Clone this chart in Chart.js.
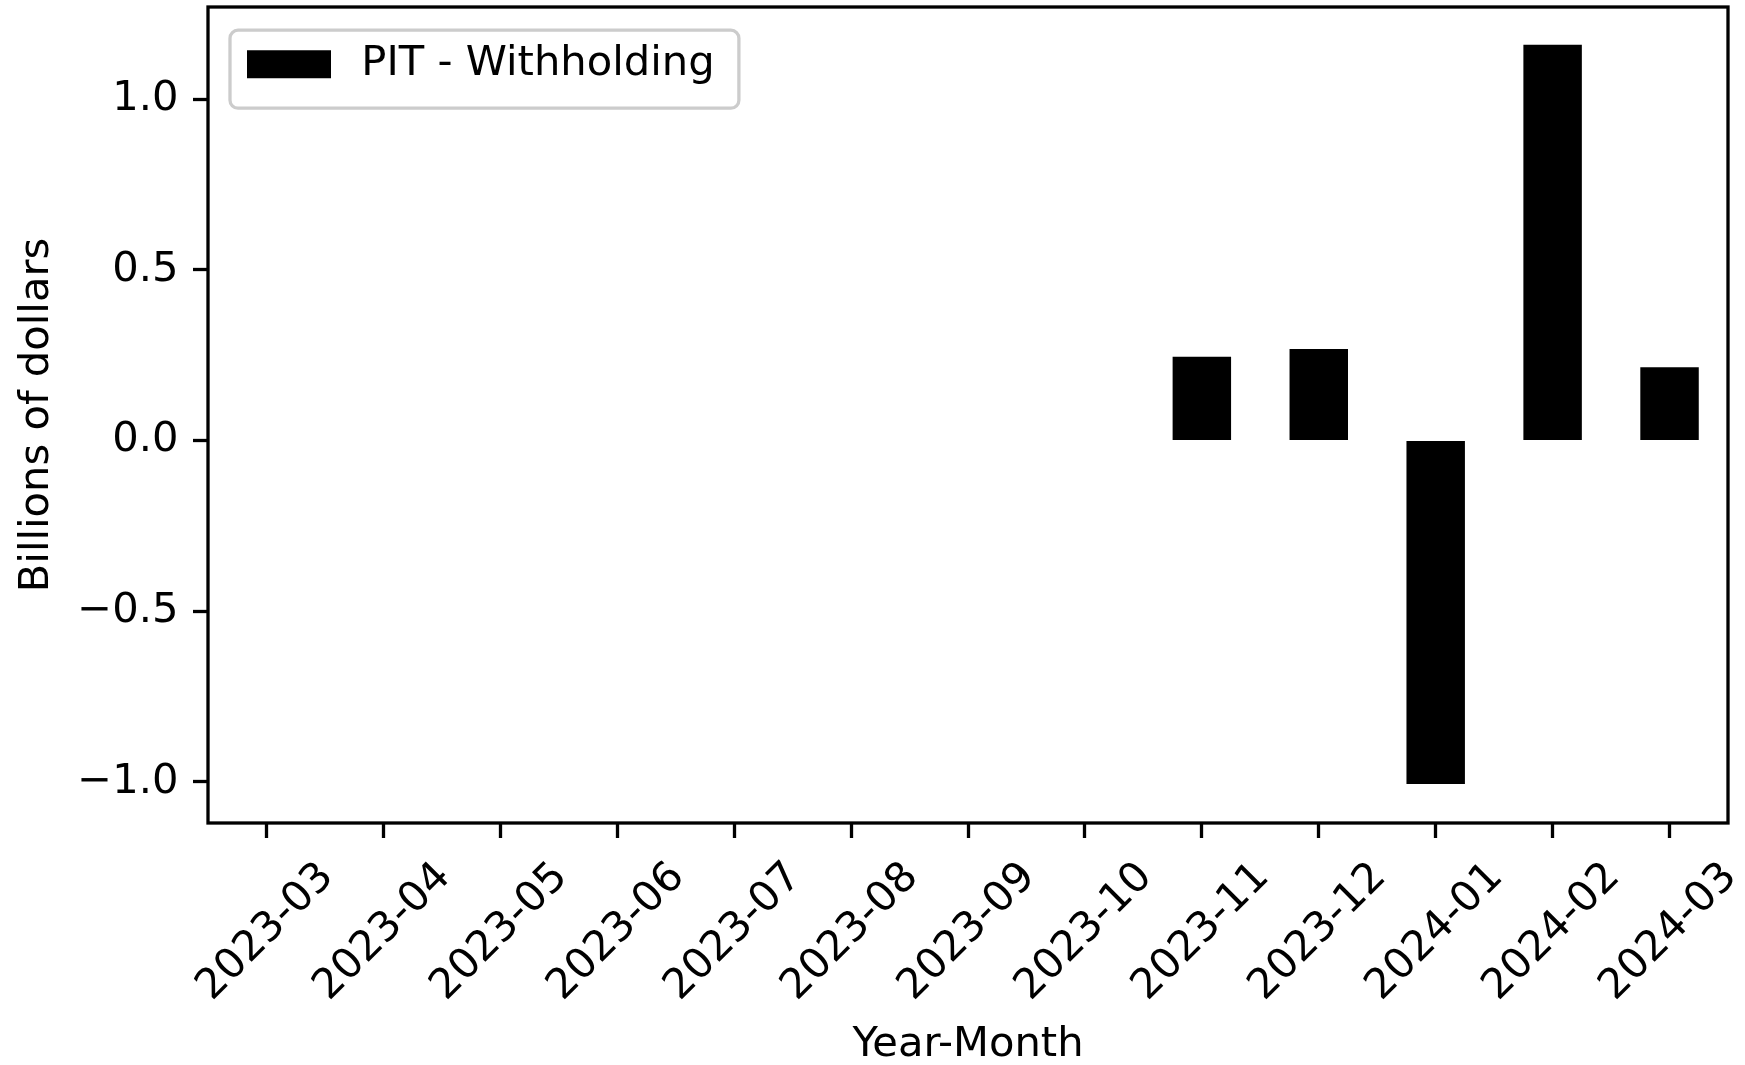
<!DOCTYPE html>
<html lang="en">
<head>
<meta charset="UTF-8">
<title>PIT - Withholding</title>
<script src="https://cdn.jsdelivr.net/npm/chart.js"></script>
<style>
  html, body { margin: 0; padding: 0; background: #fff; }
  #box { width: 1745px; height: 1065px; }
</style>
</head>
<body>
<div id="box"><canvas id="chart" width="1745" height="1065"></canvas></div>
<script>
// data (billions of dollars)
const months = ['2023-03', '2023-04', '2023-05', '2023-06', '2023-07', '2023-08', '2023-09',
                '2023-10', '2023-11', '2023-12', '2024-01', '2024-02', '2024-03'];
const withholding = [null, null, null, null, null, null, null, null, 0.245, 0.268, -1.007, 1.159, 0.214];
const seriesName = 'PIT - Withholding';
const yTicks = [-1.0, -0.5, 0.0, 0.5, 1.0];
const yMin = -1.121;
const yMax = 1.2697;

const FS = 41.67;   // 10pt at 300 dpi
const LW = 3.3;

Chart.defaults.font.family = '"DejaVu Sans", sans-serif';
Chart.defaults.font.size = FS;
Chart.defaults.color = '#000';

function legendFrame(chart) {
  const lg = chart.legend;
  if (!lg || !lg.legendHitBoxes || !lg.legendHitBoxes.length) return null;
  const hb = lg.legendHitBoxes[0];
  return { x: hb.left - 7.5, y: hb.top - 10.5, w: hb.width + 7.5 + 24.3, h: hb.height + 10.5 + 20.5 };
}

const framePlugin = {
  id: 'frame',
  afterLayout(chart) {
    // move the legend into the matplotlib spot
    const lg = chart.legend;
    lg.top += 1.7; lg.bottom += 1.7;
    lg.left -= 9.5; lg.right -= 9.5;
  },
  beforeDraw(chart) {
    const f = legendFrame(chart);
    if (!f) return;
    const ctx = chart.ctx;
    ctx.save();
    ctx.beginPath();
    ctx.roundRect(f.x, f.y, f.w, f.h, 8);
    ctx.fillStyle = 'rgba(255,255,255,0.8)';
    ctx.fill();
    ctx.restore();
  },
  afterDraw(chart) {
    const ctx = chart.ctx;
    const a = chart.chartArea;
    ctx.save();
    const f = legendFrame(chart);
    if (f) {
      ctx.beginPath();
      ctx.roundRect(f.x, f.y, f.w, f.h, 8);
      ctx.lineWidth = LW;
      ctx.strokeStyle = '#cccccc';
      ctx.stroke();
    }
    ctx.lineWidth = LW;
    ctx.strokeStyle = '#000';
    ctx.strokeRect(a.left, a.top, a.right - a.left, a.bottom - a.top);
    ctx.restore();
  }
};

new Chart(document.getElementById('chart'), {
  type: 'bar',
  data: {
    labels: months,
    datasets: [{
      label: seriesName,
      data: withholding,
      backgroundColor: '#000',
      borderWidth: 0,
      barPercentage: 0.5,
      categoryPercentage: 1.0
    }]
  },
  options: {
    responsive: false,
    animation: false,
    events: [],
    layout: { padding: { top: 7, right: 17, left: 0, bottom: 0 } },
    plugins: {
      legend: {
        position: 'chartArea',
        align: 'start',
        labels: {
          boxWidth: 103, boxHeight: 47, padding: 39, font: { size: FS },
          // white outline trims the swatch to 84x28 and leaves matplotlib's gap before the text
          generateLabels(chart) {
            return Chart.defaults.plugins.legend.labels.generateLabels(chart).map(it => {
              it.strokeStyle = '#fff';
              it.lineWidth = 19;
              return it;
            });
          }
        }
      },
      tooltip: { enabled: false }
    },
    scales: {
      x: {
        offset: true,
        grid: { display: true, drawOnChartArea: false, drawTicks: true, tickLength: 15, tickWidth: LW, tickColor: '#000', offset: false },
        border: { display: false },
        ticks: { minRotation: 45, maxRotation: 45, autoSkip: false, padding: 15, labelOffset: 61 },
        title: { display: true, text: 'Year-Month', font: { size: FS, lineHeight: 0.96 }, padding: 0 },
        afterFit(s) { s.height = 242; s.paddingLeft = 0; s.paddingRight = 0; }
      },
      y: {
        min: yMin,
        max: yMax,
        bounds: 'data',
        grid: { display: true, drawOnChartArea: false, drawTicks: true, tickLength: 15, tickWidth: LW, tickColor: '#000' },
        border: { display: false },
        ticks: {
          padding: 14.5,
          callback: v => v.toFixed(1).replace('-', '\u2212')
        },
        afterBuildTicks(s) { s.ticks = yTicks.map(v => ({ value: v })); },
        title: { display: true, text: 'Billions of dollars', font: { size: FS }, padding: { top: 12 } },
        afterFit(s) { s.width = 208; s.paddingTop = 0; s.paddingBottom = 0; }
      }
    }
  },
  plugins: [framePlugin]
});
</script>
</body>
</html>
